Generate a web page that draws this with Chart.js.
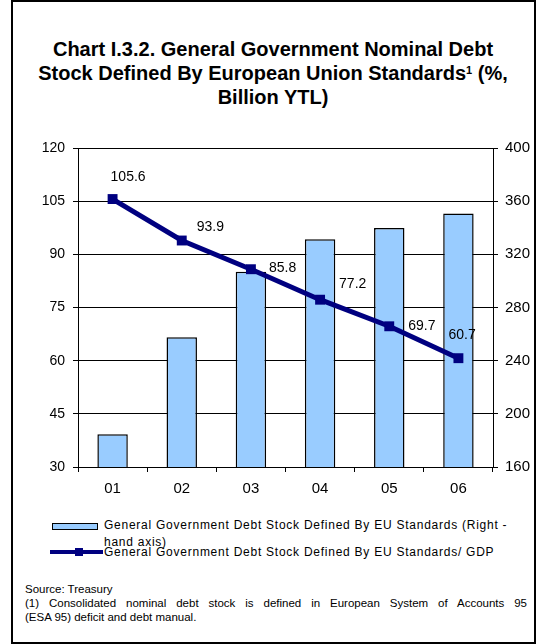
<!DOCTYPE html>
<html>
<head>
<meta charset="utf-8">
<script src="https://cdn.jsdelivr.net/npm/chart.js@4.4.0/dist/chart.umd.min.js"></script>
<style>
  body { margin: 0; background: #fff; font-family: 'Liberation Sans', Arial, sans-serif; color: #000; }
  #frame { position: absolute; left: 11px; top: 0; width: 525px; height: 644px; box-sizing: border-box; border: 2px solid #000; }
  #title { position: absolute; left: 0; top: 37px; width: 546px; text-align: center; font-weight: bold; font-size: 20px; line-height: 24px; }
  #title sup { font-size: 11px; vertical-align: 6px; line-height: 0; }
  #chartBox { position: absolute; left: 0; top: 130px; width: 546px; height: 380px; }
  .leg { position: absolute; font-size: 12px; line-height: 17px; white-space: pre; letter-spacing: 0.75px; }
  .swatch { position: absolute; box-sizing: border-box; }
  #notes { position: absolute; left: 25px; top: 582px; width: 502px; font-size: 11.5px; line-height: 14px; }
  #notes .full { text-align: justify; text-align-last: justify; }
</style>
</head>
<body>
<div id="frame"></div>
<div id="title">Chart I.3.2. General Government Nominal Debt<br>Stock Defined By European Union Standards<sup>1</sup> (%,<br>Billion YTL)</div>
<div id="chartBox"><canvas id="debtChart" width="546" height="380"></canvas></div>
<div id="legend"></div>
<div id="notes">
  <div>Source: Treasury</div>
  <div class="full">(1) Consolidated nominal debt stock is defined in European System of Accounts 95</div>
  <div>(ESA 95) deficit and debt manual.</div>
</div>

<script>
var years = ['01', '02', '03', '04', '05', '06'];
var debtStock = [184.6, 257.6, 306.9, 331.3, 339.9, 350.7];   // billion YTL, right axis
var debtToGdp = [105.6, 93.9, 85.8, 77.2, 69.7, 60.7];        // % of GDP, left axis
var leftTicks = [30, 45, 60, 75, 90, 105, 120];
var rightTicks = [160, 200, 240, 280, 320, 360, 400];
var seriesNames = [
    'General Government Debt Stock Defined By EU Standards (Right -\nhand axis)',
    'General Government Debt Stock Defined By EU Standards/ GDP'
];

var BAR_FILL = '#99ccff';
var LINE_COLOR = '#000080';
var FONT = '"Liberation Sans", Arial, sans-serif';

Chart.defaults.font.family = FONT;
Chart.defaults.color = '#000';

// value labels next to the line markers (offset from each point)
var labelShift = [[-2, -22], [15, -13], [18, -1], [19, -16], [19, 0], [-10, -23]];

var pointLabels = {
    id: 'pointLabels',
    afterDatasetsDraw: function (chart) {
        var meta = chart.getDatasetMeta(1);
        var ctx = chart.ctx;
        ctx.save();
        ctx.font = '14px ' + FONT;
        ctx.fillStyle = '#000';
        ctx.textAlign = 'left';
        ctx.textBaseline = 'middle';
        meta.data.forEach(function (pt, i) {
            ctx.fillText(debtToGdp[i].toFixed(1), pt.x + labelShift[i][0], pt.y + labelShift[i][1]);
        });
        ctx.restore();
    }
};

function fixedTicks(list) {
    return function (scale) {
        scale.ticks = list.map(function (v) { return { value: v }; });
    };
}

var ctx = document.getElementById('debtChart').getContext('2d');
var debtChart = new Chart(ctx, {
    type: 'bar',
    data: {
        labels: years,
        datasets: [
            {
                type: 'bar',
                label: seriesNames[0],
                data: debtStock,
                yAxisID: 'y1',
                backgroundColor: BAR_FILL,
                borderColor: '#000',
                borderWidth: 1.5,
                barPercentage: 0.44,
                categoryPercentage: 1,
                order: 2
            },
            {
                type: 'line',
                label: seriesNames[1],
                data: debtToGdp,
                yAxisID: 'y',
                borderColor: LINE_COLOR,
                backgroundColor: LINE_COLOR,
                borderWidth: 5,
                pointStyle: 'rect',
                pointRadius: 7,
                pointBorderWidth: 0,
                tension: 0,
                order: 1
            }
        ]
    },
    options: {
        responsive: false,
        animation: false,
        layout: { padding: { top: 18, left: 0, right: 0, bottom: 0 } },
        scales: {
            x: {
                grid: { offset: true, drawOnChartArea: false, drawTicks: true, tickLength: 5, color: '#000' },
                border: { color: '#000', width: 1 },
                ticks: { font: { size: 15 }, padding: 8, maxRotation: 0 },
                afterFit: function (s) { s.height = 43; }
            },
            y: {
                position: 'left',
                min: 30,
                max: 120,
                afterBuildTicks: fixedTicks(leftTicks),
                grid: { color: '#000', tickLength: 5 },
                border: { color: '#000', width: 1 },
                ticks: { font: { size: 14 }, padding: 8 },
                afterFit: function (s) { s.width = 78; }
            },
            y1: {
                position: 'right',
                min: 160,
                max: 400,
                afterBuildTicks: fixedTicks(rightTicks),
                grid: { drawOnChartArea: false, color: '#000', tickLength: 5 },
                border: { color: '#000', width: 1 },
                ticks: { font: { size: 15 }, padding: 7 },
                afterFit: function (s) { s.width = 53; }
            }
        },
        plugins: {
            legend: { display: false },
            tooltip: { enabled: false }
        }
    },
    plugins: [pointLabels]
});

// legend entries below the chart
var legend = document.getElementById('legend');
legend.innerHTML =
    '<div class="swatch" style="left:52px;top:523px;width:46px;height:7px;background:' + BAR_FILL + ';border:1.5px solid #000"></div>' +
    '<div class="leg" style="left:104px;top:517px"></div>' +
    '<div class="swatch" style="left:50px;top:550px;width:53px;height:4px;background:' + LINE_COLOR + '"></div>' +
    '<div class="swatch" style="left:75px;top:548px;width:8px;height:8px;background:' + LINE_COLOR + '"></div>' +
    '<div class="leg" style="left:104px;top:544px"></div>';
var legTexts = legend.querySelectorAll('.leg');
legTexts[0].textContent = seriesNames[0];
legTexts[1].textContent = seriesNames[1];
</script>
</body>
</html>
